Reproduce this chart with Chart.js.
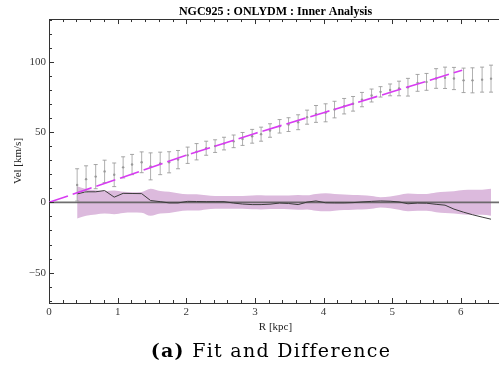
<!DOCTYPE html>
<html>
<head>
<meta charset="utf-8">
<script src="https://cdn.jsdelivr.net/npm/chart.js@4.4.1/dist/chart.umd.min.js"></script>
<style>
  html, body { margin: 0; padding: 0; background: #fff; }
  #wrap { position: relative; width: 499px; height: 379px; overflow: hidden; }
  #box { position: absolute; left: 0; top: 0; width: 507px; height: 379px; }
  #caption {
    position: absolute; left: 0; top: 339px; width: 542px;
    text-align: center; white-space: nowrap; letter-spacing: 1.3px;
    font-family: "DejaVu Serif", serif; font-size: 19px; color: #000;
  }
</style>
</head>
<body>
<div id="wrap">
  <div id="box"><canvas id="c"></canvas></div>
  <div id="caption"><b>(a)</b> Fit and Difference</div>
</div>
<script>
// Radius of each measured ring (kpc)
const radius = [0.41, 0.54, 0.68, 0.81, 0.95, 1.08, 1.21, 1.35, 1.48, 1.62, 1.75, 1.88,
                2.02, 2.15, 2.29, 2.42, 2.55, 2.69, 2.82, 2.96, 3.09, 3.22, 3.36, 3.49,
                3.63, 3.76, 3.89, 4.03, 4.16, 4.30, 4.43, 4.56, 4.70, 4.83, 4.97, 5.10,
                5.23, 5.37, 5.50, 5.64, 5.77, 5.90, 6.04, 6.17, 6.31, 6.44];
// Observed rotation velocity (km/s)
const velocity = [12.4, 16.5, 18.3, 22.0, 19.6, 24.9, 26.9, 28.5, 25.6, 27.7, 28.5, 30.4,
                  33.5, 36.0, 38.5, 40.0, 41.8, 43.4, 45.1, 47.0, 48.5, 51.1, 54.1, 55.3,
                  57.0, 60.6, 62.9, 63.7, 66.0, 68.4, 70.1, 73.1, 76.0, 78.6, 80.0, 81.0,
                  81.9, 85.0, 85.7, 88.1, 88.6, 88.1, 86.8, 86.8, 87.3, 88.0];
// Velocity uncertainty (km/s)
const velErr = [11.5, 9.5, 8.6, 8.0, 8.4, 7.5, 7.2, 7.4, 9.6, 8.0, 7.5, 6.5,
                5.8, 5.8, 5.0, 4.5, 4.5, 4.5, 4.6, 4.9, 5.0, 4.8, 4.8, 4.9,
                5.3, 5.0, 6.0, 6.4, 5.9, 5.5, 5.2, 5.1, 4.6, 3.7, 4.2, 5.2,
                6.3, 6.0, 6.0, 7.0, 7.6, 7.9, 8.7, 8.9, 8.9, 9.6];
// Residual: observed minus model (km/s)
const residual = [6.0, 7.5, 7.5, 8.4, 3.7, 6.4, 6.3, 6.2, 1.3, 0.5, -0.4, -0.4,
                  0.7, 0.6, 0.5, 0.5, 0.5, -0.5, -1.2, -1.6, -1.6, -1.3, -0.5, -0.8,
                  -1.6, 0.2, 1.0, -0.3, -0.4, -0.4, -0.2, 0.3, 0.7, 1.0, 0.8, 0.3,
                  -1.0, -0.5, -0.6, -1.4, -2.0, -4.8, -7.0, -8.8, -10.5, -12.0];
// Dark-matter-only model curve
const modelR = [0, 1, 2, 3, 4, 5, 6.02];
const modelV = [0, 16.6, 33.5, 49.0, 63.8, 78.6, 94.0];

// Axis ticks
const xTicks = [0, 1, 2, 3, 4, 5, 6];
const yTicks = [-50, 0, 50, 100];
const xRange = [0, 6.6];
const yRange = [-71.6, 130.4];
const xMinorStep = 0.2;
const yMinorStep = 10;

const pts = (xs, ys) => xs.map((x, i) => ({ x: x, y: ys[i] }));

// Vertical error bar segments, separated by gaps
const errSegments = [];
radius.forEach((r, i) => {
  errSegments.push({ x: r, y: velocity[i] - velErr[i] });
  errSegments.push({ x: r, y: velocity[i] + velErr[i] });
  errSegments.push({ x: r, y: null });
});

const serif = 'Liberation Serif, Times New Roman, serif';

// Inward tick marks on the left, bottom and top frame edges
const frameTicks = {
  id: 'frameTicks',
  afterDatasetsDraw(chart) {
    const { ctx, chartArea: a, scales: { x, y } } = chart;
    ctx.save();
    ctx.strokeStyle = '#333';
    ctx.lineWidth = 1;
    ctx.beginPath();
    ctx.moveTo(a.left, Math.round(a.top) + 0.5);
    ctx.lineTo(a.right, Math.round(a.top) + 0.5);
    for (let k = 0; k * xMinorStep <= x.max + 1e-9; k++) {
      const v = k * xMinorStep;
      const major = Math.abs(v - Math.round(v)) < 1e-6;
      const len = major ? 5 : 3;
      const px = Math.round(x.getPixelForValue(v)) + 0.5;
      ctx.moveTo(px, a.bottom); ctx.lineTo(px, a.bottom - len);
      ctx.moveTo(px, a.top); ctx.lineTo(px, a.top + len);
    }
    for (let k = Math.ceil(y.min / yMinorStep); k * yMinorStep <= y.max; k++) {
      const v = k * yMinorStep;
      const major = v % 50 === 0;
      const len = major ? 5 : 3;
      const py = Math.round(y.getPixelForValue(v)) + 0.5;
      ctx.moveTo(a.left, py); ctx.lineTo(a.left + len, py);
    }
    ctx.stroke();
    ctx.restore();
  }
};

new Chart(document.getElementById('c'), {
  type: 'line',
  data: {
    datasets: [
      { // model fit
        data: pts(modelR, modelV),
        borderColor: '#d83cf2', borderWidth: 1.6, borderDash: [20, 5],
        pointRadius: 0, tension: 0, fill: false
      },
      { // measured points
        data: pts(radius, velocity), showLine: false,
        pointRadius: 1.2, pointBackgroundColor: '#999', pointBorderWidth: 0
      },
      { // error bars
        data: errSegments, spanGaps: false,
        borderColor: 'rgba(150,150,150,0.75)', borderWidth: 1,
        pointStyle: 'line', pointRadius: 2, pointBorderWidth: 1,
        pointBorderColor: 'rgba(150,150,150,0.85)', fill: false
      },
      { // residual
        data: pts(radius, residual),
        borderColor: '#3c3c3c', borderWidth: 1, pointRadius: 0, tension: 0, fill: false
      },
      { // zero reference
        data: [{ x: xRange[0], y: 0 }, { x: xRange[1], y: 0 }],
        borderColor: 'rgba(95,95,95,0.9)', borderWidth: 1.8, pointRadius: 0, fill: false
      },
      { // uncertainty band, upper edge
        data: pts(radius, velErr),
        borderColor: 'transparent', borderWidth: 0, pointRadius: 0,
        backgroundColor: '#dcbadd', fill: '+1', cubicInterpolationMode: 'monotone'
      },
      { // uncertainty band, lower edge
        data: pts(radius, velErr.map(e => -e)),
        borderColor: 'transparent', borderWidth: 0, pointRadius: 0,
        fill: false, cubicInterpolationMode: 'monotone'
      }
    ]
  },
  options: {
    responsive: true, maintainAspectRatio: false, animation: false,
    devicePixelRatio: 1, events: [],
    layout: { padding: { left: 0, right: 0, top: 0, bottom: 43 } },
    plugins: {
      legend: { display: false },
      tooltip: { enabled: false },
      title: {
        display: true, fullSize: false,
        text: 'NGC925 : ONLYDM : Inner Analysis',
        color: '#000',
        font: { family: serif, size: 12, weight: 'bold', lineHeight: 1.17 },
        padding: { top: 5, bottom: 0 }
      }
    },
    scales: {
      x: {
        type: 'linear', min: xRange[0], max: xRange[1],
        grid: { display: false, drawTicks: false },
        border: { display: true, color: '#333', width: 1 },
        afterBuildTicks: s => { s.ticks = xTicks.map(v => ({ value: v })); },
        afterFit: s => { s.height = 33; },
        ticks: {
          color: '#3a3a3a', padding: 3, maxRotation: 0, autoSkip: false,
          font: { family: serif, size: 11 }
        },
        title: {
          display: true, text: 'R [kpc]', color: '#222',
          font: { family: serif, size: 11 }, padding: { top: 0, bottom: 2 }
        }
      },
      y: {
        type: 'linear', min: yRange[0], max: yRange[1],
        grid: { display: false, drawTicks: false },
        border: { display: true, color: '#333', width: 1 },
        afterBuildTicks: s => { s.ticks = yTicks.map(v => ({ value: v })); },
        afterFit: s => { s.width = 49; },
        ticks: {
          color: '#3a3a3a', padding: 3,
          font: { family: serif, size: 11 },
          callback: v => (v < 0 ? '\u2212' + Math.abs(v) : String(v))
        },
        title: {
          display: true, text: 'Vel [km/s]', color: '#222',
          font: { family: serif, size: 11 }, padding: { top: 12, bottom: 0 }
        }
      }
    }
  },
  plugins: [frameTicks]
});
</script>
</body>
</html>
